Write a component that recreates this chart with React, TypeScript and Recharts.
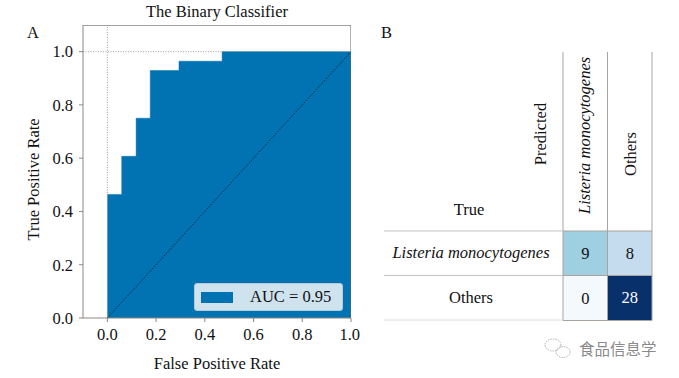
import {
  ComposedChart, Area, Line, XAxis, YAxis, Label,
  BarChart, Bar, Cell, LabelList,
} from "recharts";

// ROC curve (step points)
const fpr = [0, 0.059, 0.118, 0.176, 0.294, 0.471, 1.0];
const tpr = [0.464, 0.607, 0.75, 0.929, 0.964, 1.0, 1.0];
const axisTicks = [0, 0.2, 0.4, 0.6, 0.8, 1.0];
const aucLabel = "AUC = 0.95";

// confusion matrix
const classes = ["Listeria monocytogenes", "Others"];
const predLm = [9, 0];
const predOthers = [8, 28];
const colorLm = ["#9fd0e2", "#f4f9fd"];
const colorOthers = ["#c4dced", "#08306b"];

const SERIF = "'Liberation Serif', 'Times New Roman', serif";
const FS = 16.5;
const BLUE = "#0173b2";
const SPINE = "#8c8782";

const rocData = fpr.map((x, i) => ({ fpr: x, tpr: tpr[i] }));
const diagData = [{ fpr: 0, tpr: 0 }, { fpr: 1, tpr: 1 }];
const vGuide = [{ fpr: 0, tpr: 0 }, { fpr: 0, tpr: 1.1 }];
const hGuide = [{ fpr: -0.1, tpr: 1 }, { fpr: 1, tpr: 1 }];
const topSpine = [{ fpr: -0.1, tpr: 1.1 }, { fpr: 1, tpr: 1.1 }];
const rightSpine = [{ fpr: 1, tpr: 0 }, { fpr: 1, tpr: 1.1 }];

const matrix = classes.map((c, i) => ({ name: c, lm: predLm[i], ot: predOthers[i] }));

const tickStyle = { fontFamily: SERIF, fontSize: FS, fill: "#111" };

function LegendBox() {
  return (
    <div style={{
      position: "absolute", left: 194, top: 283,
      width: 149, height: 28, background: "#cfe3ef", border: "1px solid #b9c9d3",
      borderRadius: 3, display: "flex", alignItems: "center", boxSizing: "border-box",
    }}>
      <div style={{ width: 32, height: 11, background: BLUE, marginLeft: 6 }} />
      <span style={{ fontFamily: SERIF, fontSize: FS, color: "#111", marginLeft: 17 }}>{aucLabel}</span>
    </div>
  );
}

const COL_W = 44.5;
const ROW_H = 44.6;

function ColHeader(props: any) {
  const { x, payload } = props;
  const name = classes[Math.floor(payload.value)];
  const italic = name !== "Others";
  const top = 52;
  const bottom = 231;
  return (
    <g>
      <line x1={x - COL_W / 2} x2={x - COL_W / 2} y1={top} y2={bottom} stroke="#a9a39d" />
      <line x1={x + COL_W / 2} x2={x + COL_W / 2} y1={top} y2={bottom} stroke="#a9a39d" />
      {italic ? (
        <text transform={`translate(${x + 5},214) rotate(-90)`} textAnchor="start"
          style={{ fontFamily: SERIF, fontSize: FS, fontStyle: "italic", fill: "#111" }}>{name}</text>
      ) : (
        <text transform={`translate(${x + 6},154) rotate(-90)`} textAnchor="middle"
          style={{ fontFamily: SERIF, fontSize: FS, fill: "#111" }}>{name}</text>
      )}
    </g>
  );
}

function RowHeader(props: any) {
  const { y, payload } = props;
  const italic = payload.value !== "Others";
  const left = 24;
  const right = 203;
  return (
    <g>
      <line x1={left} x2={right} y1={y - ROW_H / 2} y2={y - ROW_H / 2} stroke="#c4c4c4" />
      <line x1={left} x2={right} y1={y + ROW_H / 2} y2={y + ROW_H / 2} stroke={payload.value === "Others" ? "#dadada" : "#c4c4c4"} />
      <text x={111} y={y + 5} textAnchor="middle"
        style={{ fontFamily: SERIF, fontSize: FS, fontStyle: italic ? "italic" : "normal", fill: "#111" }}>
        {payload.value}
      </text>
    </g>
  );
}

export default function App() {
  return (
    <div style={{ position: "absolute", left: 0, top: 0, width: 679, height: 378, background: "#fff" }}>
      <div style={{ position: "absolute", left: 0, top: 0 }}>
        <ComposedChart width={360} height={378} margin={{ top: 25, right: 9, left: 0, bottom: 0 }}>
          <XAxis dataKey="fpr" type="number" domain={[-0.1, 1.0]} ticks={axisTicks} allowDataOverflow
            tickFormatter={(v: number) => v.toFixed(1)} stroke={SPINE} tickSize={4}
            tick={tickStyle} height={60} tickMargin={6}>
            <Label value="False Positive Rate" position="insideBottom" offset={9}
              style={{ fontFamily: SERIF, fontSize: FS, fill: "#111" }} />
          </XAxis>
          <YAxis dataKey="tpr" type="number" domain={[0, 1.1]} ticks={axisTicks} allowDataOverflow
            tickFormatter={(v: number) => v.toFixed(1)} stroke={SPINE} tickSize={4}
            tick={tickStyle} width={83} tickMargin={6}>
            <Label value="True Positive Rate" angle={-90} position="insideLeft" offset={33}
              dy={8} style={{ fontFamily: SERIF, fontSize: FS, fill: "#111", textAnchor: "middle" }} />
          </YAxis>
          <Line data={vGuide} dataKey="tpr" stroke="#888" strokeWidth={0.8} strokeDasharray="1 1.5"
            dot={false} isAnimationActive={false} legendType="none" />
          <Line data={hGuide} dataKey="tpr" stroke="#888" strokeWidth={0.8} strokeDasharray="1 1.5"
            dot={false} isAnimationActive={false} legendType="none" />
          <Area data={rocData} dataKey="tpr" type="stepAfter" fill={BLUE} fillOpacity={1} stroke={BLUE}
            strokeWidth={0.5} isAnimationActive={false} name={aucLabel} />
          <Line data={diagData} dataKey="tpr" stroke="#111" strokeWidth={0.8} strokeDasharray="1.5 1.5"
            dot={false} isAnimationActive={false} legendType="none" />
          <Line data={topSpine} dataKey="tpr" stroke="#444" strokeWidth={1} dot={false}
            isAnimationActive={false} legendType="none" />
          <Line data={rightSpine} dataKey="tpr" stroke="#666" strokeWidth={1} dot={false}
            isAnimationActive={false} legendType="none" />
        </ComposedChart>
        <LegendBox />
        <div style={{ position: "absolute", left: 0, top: 2, width: 434, textAlign: "center", fontFamily: SERIF, fontSize: FS, color: "#111" }}>
          The Binary Classifier
        </div>
        <div style={{ position: "absolute", left: 27, top: 23, fontFamily: SERIF, fontSize: FS, color: "#111" }}>A</div>
      </div>

      <div style={{ position: "absolute", left: 360, top: 0 }}>
        <BarChart width={319} height={378} data={matrix} layout="vertical" barCategoryGap={0}
          margin={{ top: 0, right: 27, left: 0, bottom: 58 }}>
          <XAxis type="number" orientation="top" domain={[0, 2]} ticks={[0.5, 1.5]} height={231}
            axisLine={false} tickLine={false} tick={<ColHeader />} />
          <YAxis type="category" dataKey="name" width={203} axisLine={false} tickLine={false}
            tick={<RowHeader />} />
          <Bar dataKey={() => 1} stackId="m" isAnimationActive={false} stroke="#a9a39d" strokeWidth={1}>
            {matrix.map((_, i) => <Cell key={`lm-${i}`} fill={colorLm[i]} />)}
            <LabelList dataKey="lm" position="center"
              style={{ fontFamily: SERIF, fontSize: FS, fill: "#111" }} />
          </Bar>
          <Bar dataKey={() => 1} stackId="m" isAnimationActive={false} stroke="#a9a39d" strokeWidth={1}>
            {matrix.map((_, i) => <Cell key={`ot-${i}`} fill={colorOthers[i]} />)}
            <LabelList dataKey="ot" position="center"
              content={(p: any) => (
                <text x={p.x + p.width / 2} y={p.y + p.height / 2 + 5} textAnchor="middle"
                  style={{ fontFamily: SERIF, fontSize: FS, fill: p.value > 20 ? "#fff" : "#111" }}>{p.value}</text>
              )} />
          </Bar>
        </BarChart>
        <div style={{ position: "absolute", left: 21, top: 23, fontFamily: SERIF, fontSize: FS, color: "#111" }}>B</div>
        <svg style={{ position: "absolute", left: 0, top: 0 }} width={319} height={378}>
          <text transform="translate(186,134) rotate(-90)" textAnchor="middle"
            style={{ fontFamily: SERIF, fontSize: FS, fill: "#111" }}>Predicted</text>
          <text x={109} y={215} textAnchor="middle"
            style={{ fontFamily: SERIF, fontSize: FS, fill: "#111" }}>True</text>
          <g stroke="#a0a0a0" fill="none" strokeWidth={0.8} strokeDasharray="1.5 1">
            <ellipse cx={193} cy={345} rx={8} ry={6} />
            <ellipse cx={203} cy={352} rx={7} ry={5.5} />
          </g>
          <text x={219} y={355} style={{ fontFamily: "'Noto Sans CJK SC', sans-serif", fontSize: 15.5, fill: "#8a8a8a" }}>食品信息学</text>
        </svg>
      </div>
    </div>
  );
}
